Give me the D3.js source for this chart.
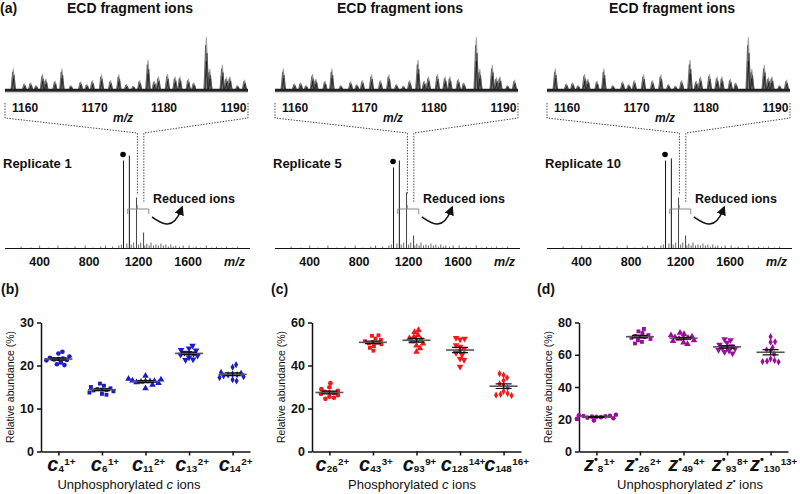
<!DOCTYPE html>
<html><head><meta charset="utf-8">
<script src="https://cdn.jsdelivr.net/npm/d3@7"></script>
<style>body{margin:0;background:#fff} svg{display:block} text{font-family:"Liberation Sans",Arial,sans-serif;fill:#111}</style>
</head><body><svg id="c" width="800" height="494"></svg>
<script>
// ---------------- data ----------------
const replicates = ["Replicate 1", "Replicate 5", "Replicate 10"];
const zoomTicks = [1160, 1170, 1180, 1190];
const fullTicks = [400, 800, 1200, 1600];
const zoomPeakMz = [1158.3,1159.9,1160.8,1161.6,1162.5,1163.0,1164.3,1165.3,1166.6,1168.0,1168.9,1169.7,1171.0,1172.3,1173.5,1174.6,1175.6,1176.5,1177.7,1178.6,1179.2,1180.5,1181.6,1182.3,1183.5,1184.3,1186.1,1186.6,1188.4,1189.0,1189.5,1190.6,1191.6];
const zoomPeakInt = [41,13,15,10,31,22,18,41,10,17,12,19,30,19,30,12,9,19,57,18,26,31,26,26,22,15,100,40,48,25,26,10,20];
const mainPeakMz = [1078, 1125, 1183, 1240];
const mainPeakInt = [[88, 93, 51, 16], [81, 88, 56, 13], [88, 90, 51, 13]];
const minorPeakMz = [250,330,400,470,548,620,686,768,830,894,933,990,1040,1060,1105,1140,1160,1200,1217,1250,1266,1285,1300,1320,1340,1360,1380,1400,1420,1440,1460,1480,1500,1530,1560,1608,1640,1665,1700,1747,1790,1830,1870,1911,1960,2000];
const minorPeakInt = [2,1,3,1,3,1,2,3,1,2,3,2,3,4,5,4,6,4,6,3,5,3,6,3,4,3,5,3,4,2,4,2,3,2,3,3,1,2,1,3,1,2,1,2,1,2];
const zoomWindow = [1190, 1242];      // m/z on full spectrum where guides land
const reducedRange = [1112, 1282, 1189];

// panel (b) unphosphorylated c ions
const bSub = ["4", "6", "11", "13", "14"];
const bCharge = ["1+", "1+", "2+", "2+", "2+"];
const bValues = [
  [23.2, 22.8, 22.1, 21.8, 21.6, 21.5, 21.4, 21.3, 21.2, 20.7, 20.3, 20.1],
  [15.8, 15.3, 15.0, 14.7, 14.5, 14.4, 14.3, 14.2, 14.0, 13.7, 13.4, 13.2],
  [17.6, 16.9, 16.7, 16.5, 16.4, 16.3, 16.3, 16.2, 16.1, 15.9, 15.5, 14.7],
  [24.6, 24.0, 23.6, 23.5, 23.0, 22.9, 22.7, 22.5, 22.3, 21.9, 21.4, 21.3],
  [20.2, 19.6, 18.4, 18.2, 18.0, 17.9, 17.8, 17.6, 17.4, 17.2, 16.7, 16.4]
];
const bTicks = [0, 10, 20, 30];
// panel (c) phosphorylated c ions
const cSub = ["26", "43", "93", "128", "148"];
const cCharge = ["2+", "3+", "9+", "14+", "16+"];
const cValues = [
  [31.8, 29.9, 29.0, 28.2, 27.8, 27.5, 27.2, 26.8, 26.2, 25.5, 25.0, 24.5],
  [54.0, 53.8, 52.5, 51.9, 51.3, 50.9, 50.6, 50.3, 49.9, 49.0, 48.2, 46.9],
  [56.5, 55.5, 54.2, 53.3, 52.7, 52.0, 51.6, 51.1, 50.2, 49.3, 48.0, 46.4],
  [52.8, 52.5, 52.1, 49.5, 48.8, 47.6, 46.8, 45.9, 45.0, 43.2, 42.6, 39.5],
  [36.2, 35.5, 34.3, 33.0, 31.5, 30.6, 29.6, 28.0, 27.0, 26.6, 26.2, 26.0]
];
const cTicks = [0, 20, 40, 60];
// panel (d) unphosphorylated z• ions
const dSub = ["8", "26", "49", "93", "130"];
const dCharge = ["1+", "2+", "4+", "8+", "13+"];
const dValues = [
  [22.8, 22.5, 22.2, 22.0, 21.8, 21.6, 21.5, 21.3, 21.0, 20.6, 20.2, 19.3],
  [76.0, 74.5, 73.5, 72.2, 71.6, 71.3, 71.0, 70.5, 69.8, 69.0, 68.0, 67.0],
  [73.6, 72.8, 72.0, 71.3, 70.8, 70.5, 70.2, 69.8, 69.0, 68.5, 67.5, 66.6],
  [69.6, 69.0, 67.5, 66.3, 65.4, 64.8, 64.3, 63.8, 63.0, 62.5, 61.8, 60.8],
  [71.2, 68.0, 67.8, 64.5, 63.0, 62.2, 60.5, 57.5, 56.5, 56.0, 55.8, 55.5]
];
const dTicks = [0, 20, 40, 60, 80];
const symbolTypes = [d3.symbolCircle, d3.symbolSquare, d3.symbolTriangle, "tdown", d3.symbolDiamond];

// ---------------- drawing ----------------
const svg = d3.select("#c");
const defs = svg.append("defs");
defs.append("marker").attr("id", "ah").attr("viewBox", "0 0 10 10").attr("refX", 5).attr("refY", 5)
  .attr("markerWidth", 6).attr("markerHeight", 6).attr("orient", "auto")
  .append("path").attr("d", "M0,0 L10,5 L0,10 Z").attr("fill", "#111");

svg.append("text").attr("x", 0).attr("y", 13).attr("font-size", 14).attr("font-weight", "bold").text("(a)");

const colOff = [0, 270, 542];
const xZ = d3.scaleLinear().domain([1157.1, 1192.1]).range([5, 248]);
const yZ = d3.scaleLinear().domain([0, 100]).range([90.5, 37]);
const xM = d3.scaleLinear().domain([120, 2100]).range([5, 250]);
const yM = d3.scaleLinear().domain([0, 100]).range([248.5, 148.5]);

replicates.forEach((rep, ci) => {
  const g = svg.append("g").attr("transform", `translate(${colOff[ci]},0)`);
  g.append("text").attr("x", 130).attr("y", 13).attr("text-anchor", "middle")
    .attr("font-size", 14).attr("font-weight", "bold").text("ECD fragment ions");
  // zoomed spectrum (overlaid replicate traces)
  const peaks = zoomPeakMz.map((m, i) => ({ m, v: zoomPeakInt[i] }));
  g.selectAll(".zg").data(peaks).join("path")
    .attr("d", p => `M${xZ(p.m) - 2.8},${yZ(0)} L${xZ(p.m) - 0.5},${yZ(p.v)} L${xZ(p.m) + 0.5},${yZ(p.v)} L${xZ(p.m) + 2.8},${yZ(0)} Z`)
    .attr("fill", "#a0a0a0");
  [[-0.8, 0.85, "#555"], [0.7, 0.7, "#333"], [0, 0.55, "#111"]].forEach(([dx, f, col]) => {
    g.selectAll(null).data(peaks).join("path")
      .attr("d", p => `M${xZ(p.m) + dx - 1.6},${yZ(0)} L${xZ(p.m) + dx},${yZ(p.v * f)} L${xZ(p.m) + dx + 1.6},${yZ(0)}`)
      .attr("fill", "none").attr("stroke", col).attr("stroke-width", 0.7);
  });
  g.append("line").attr("x1", xZ.range()[0]).attr("x2", xZ.range()[1])
    .attr("y1", yZ(0) - 0.3).attr("y2", yZ(0) - 0.3).attr("stroke", "#222").attr("stroke-width", 3);
  g.append("line").attr("x1", xZ.range()[0]).attr("x2", xZ.range()[1])
    .attr("y1", yZ(0) + 2.2).attr("y2", yZ(0) + 2.2).attr("stroke", "#c8c8c8").attr("stroke-width", 1);
  g.selectAll(".zt").data(zoomTicks).join("text")
    .attr("x", d => xZ(d)).attr("y", 112).attr("text-anchor", "middle")
    .attr("font-size", 12).attr("font-weight", "bold").text(d => d);
  g.append("text").attr("x", 123).attr("y", 121.5).attr("text-anchor", "middle")
    .attr("font-size", 12).attr("font-weight", "bold").attr("font-style", "italic").text("m/z");
  // dotted guides
  const dot = { stroke: "#444", "stroke-width": 1, "stroke-dasharray": "1.4,1.4", fill: "none" };
  const gl = g.append("path").attr("d", `M${xZ.range()[0]},103 V118 L${xM(zoomWindow[0])},133 V195`);
  const gr = g.append("path").attr("d", `M${xZ.range()[1]},103 V118 L${xM(zoomWindow[1])},133 V202`);
  [gl, gr].forEach(p => Object.entries(dot).forEach(([k, v]) => p.attr(k, v)));
  // main spectrum
  g.append("line").attr("x1", xM.range()[0]).attr("x2", xM.range()[1])
    .attr("y1", yM(0)).attr("y2", yM(0)).attr("stroke", "#111").attr("stroke-width", 1.1);
  const minors = minorPeakMz.map((m, i) => ({ m, v: minorPeakInt[i] }));
  g.selectAll(".mn").data(minors).join("line")
    .attr("x1", d => xM(d.m)).attr("x2", d => xM(d.m)).attr("y1", yM(0)).attr("y2", d => yM(d.v))
    .attr("stroke", "#444").attr("stroke-width", 0.8);
  const mains = mainPeakMz.map((m, i) => ({ m, v: mainPeakInt[ci][i] }));
  g.selectAll(".mp").data(mains).join("line")
    .attr("x1", d => xM(d.m)).attr("x2", d => xM(d.m)).attr("y1", yM(0)).attr("y2", d => yM(d.v))
    .attr("stroke", (d, i) => i >= 2 ? "#444" : "#111").attr("stroke-width", 1);
  g.append("circle").attr("cx", xM(mainPeakMz[0]) - 0.5).attr("cy", yM(mainPeakInt[ci][0]) - 6).attr("r", 2.8).attr("fill", "#000");
  g.selectAll(".mt").data(fullTicks).join("text")
    .attr("x", d => xM(d)).attr("y", 265.5).attr("text-anchor", "middle")
    .attr("font-size", 12.5).attr("font-weight", "bold").text(d => d);
  g.append("text").attr("x", 234.5).attr("y", 265.5).attr("text-anchor", "middle")
    .attr("font-size", 12.5).attr("font-weight", "bold").attr("font-style", "italic").text("m/z");
  g.append("text").attr("x", 3).attr("y", 168).attr("font-size", 13).attr("font-weight", "bold").text(rep);
  // reduced ions bracket
  g.append("path").attr("d", `M${xM(reducedRange[0])},214 V209 H${xM(reducedRange[1])} V214 M${xM(reducedRange[2])},209 V205`)
    .attr("fill", "none").attr("stroke", "#888").attr("stroke-width", 1);
  g.append("text").attr("x", 153).attr("y", 203).attr("font-size", 12.5).attr("font-weight", "bold").text("Reduced ions");
  g.append("path").attr("d", "M152,217 C160,222 172,233 181,210")
    .attr("fill", "none").attr("stroke", "#111").attr("stroke-width", 1.6).attr("marker-end", "url(#ah)");
});

// ---------------- dot plots ----------------
function swarm(vals, y, dmin) {
  const placed = [], out = new Array(vals.length);
  const mu = d3.mean(vals);
  const order = vals.map((v, i) => i).sort((a, b) => Math.abs(vals[a] - mu) - Math.abs(vals[b] - mu));
  for (const i of order) {
    const py = y(vals[i]);
    let dx = 0;
    for (let k = 0; k < 400; k++) {
      const cand = k === 0 ? 0 : (k % 2 ? 1 : -1) * Math.ceil(k / 2) * 0.5;
      if (placed.every(p => Math.hypot(p[0] - cand, p[1] - py) >= dmin)) { dx = cand; break; }
    }
    placed.push([dx, py]); out[i] = dx;
  }
  return out;
}
const tdown = { draw(ctx, size) { const s = Math.sqrt(size * 4 / Math.sqrt(3)); const h = s * Math.sqrt(3) / 2;
  ctx.moveTo(-s / 2, -h / 3); ctx.lineTo(s / 2, -h / 3); ctx.lineTo(0, 2 * h / 3); ctx.closePath(); } };

const panels = [
  { tag: "(b)", tagX: 1, x0: 41, ticks: bTicks, subs: bSub, charges: bCharge, vals: bValues, color: "#1c1cc4", letter: "c", dot: false, titleX: 129, title: "Unphosphorylated ", titleLetter: "c" },
  { tag: "(c)", tagX: 271, x0: 312, ticks: cTicks, subs: cSub, charges: cCharge, vals: cValues, color: "#f01a1a", letter: "c", dot: false, titleX: 412, title: "Phosphorylated ", titleLetter: "c" },
  { tag: "(d)", tagX: 537, x0: 579, ticks: dTicks, subs: dSub, charges: dCharge, vals: dValues, color: "#9a0f9a", letter: "z", dot: true, titleX: 690, title: "Unphosphorylated ", titleLetter: "z" }
];

panels.forEach(P => {
  const g = svg.append("g");
  g.append("text").attr("x", P.tagX).attr("y", 294).attr("font-size", 14).attr("font-weight", "bold").text(P.tag);
  const x = d3.scalePoint().domain(d3.range(P.subs.length)).range([P.x0, P.x0 + 209]).padding(0.4);
  const y = d3.scaleLinear().domain([0, d3.max(P.ticks)]).range([451.5, 322.5]);
  const ya = g.append("g").attr("transform", `translate(${P.x0},0)`)
    .call(d3.axisLeft(y).tickValues(P.ticks).tickSize(4).tickSizeOuter(0).tickPadding(3));
  ya.select(".domain").attr("stroke", "#111").attr("stroke-width", 1.5);
  ya.selectAll(".tick line").attr("stroke", "#111").attr("stroke-width", 1.5);
  ya.selectAll(".tick text").attr("font-size", 12.5).attr("font-weight", "bold")
    .attr("font-family", "Liberation Sans, Arial, sans-serif").attr("fill", "#111");
  const xa = g.append("g").attr("transform", `translate(0,${y(0)})`)
    .call(d3.axisBottom(x).tickSize(4).tickSizeOuter(0).tickFormat(""));
  xa.select(".domain").attr("stroke", "#111").attr("stroke-width", 1.5);
  xa.selectAll(".tick line").attr("stroke", "#111").attr("stroke-width", 1.5);
  // category labels
  P.subs.forEach((s, i) => {
    const t = g.append("text").attr("x", x(i) + 3).attr("y", 471).attr("text-anchor", "middle").attr("font-weight", "bold");
    t.append("tspan").attr("font-size", 20).attr("font-style", "italic").text(P.letter);
    let cur = 0;
    if (P.dot) { t.append("tspan").attr("font-size", 11).attr("dy", -8).text("•"); cur = -8; }
    t.append("tspan").attr("font-size", 9.8).attr("dy", 1.3 - cur).text(s);
    t.append("tspan").attr("font-size", 9.8).attr("dy", -7.6).attr("dx", 0.5).text(P.charges[i]);
  });
  // y title
  g.append("text").attr("transform", `translate(${P.x0 - 27},387) rotate(-90)`).attr("text-anchor", "middle")
    .attr("font-size", 10.5).text("Relative abundance (%)");
  // x title
  const xt = g.append("text").attr("x", P.titleX).attr("y", 489).attr("text-anchor", "middle").attr("font-size", 13);
  xt.append("tspan").text(P.title);
  xt.append("tspan").attr("font-style", "italic").text(P.titleLetter);
  if (P.dot) { xt.append("tspan").attr("font-size", 8).attr("dy", -6).text("•"); xt.append("tspan").attr("dy", 6).text(" ions"); }
  else xt.append("tspan").text(" ions");
  // points
  P.vals.forEach((vals, i) => {
    const offs = swarm(vals, y, 4.2);
    const st = symbolTypes[i] === "tdown" ? tdown : symbolTypes[i];
    const sz = i === 0 ? 17 : i === 1 ? 15 : i === 4 ? 15 : 19;
    g.append("g").selectAll("path").data(vals).join("path")
      .attr("d", d3.symbol().type(st).size(sz))
      .attr("transform", (v, k) => `translate(${x(i) + offs[k]},${y(v)})`)
      .attr("fill", P.color);
    const m = d3.mean(vals), sem = d3.deviation(vals) / Math.sqrt(vals.length);
    const cx = x(i);
    g.append("line").attr("x1", cx - 14).attr("x2", cx + 14).attr("y1", y(m)).attr("y2", y(m))
      .attr("stroke", "#555").attr("stroke-width", 1.6);
    g.append("path").attr("d", `M${cx - 8},${y(m + sem)} H${cx + 8} M${cx},${y(m + sem)} V${y(m - sem)} M${cx - 8},${y(m - sem)} H${cx + 8}`)
      .attr("fill", "none").attr("stroke", "#111").attr("stroke-width", 1.2);
  });
});
</script></body></html>
